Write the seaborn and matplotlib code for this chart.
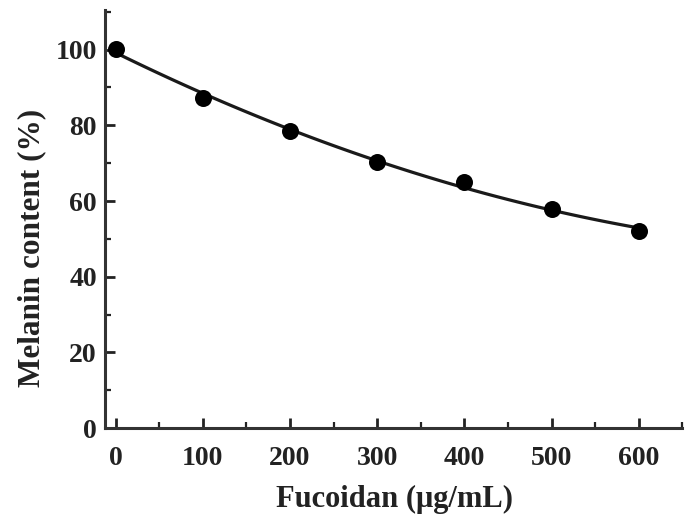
import matplotlib
matplotlib.use("Agg")
import numpy as np
import pandas as pd
import seaborn as sns
import matplotlib.pyplot as plt
from matplotlib.ticker import MultipleLocator

# Data
fucoidan = [0, 100, 200, 300, 400, 500, 600]          # µg/mL
melanin = [100.2, 87.2, 78.4, 70.3, 65.0, 57.9, 52.2]  # %

df = pd.DataFrame({"Fucoidan": fucoidan, "Melanin": melanin})

sns.set_style("ticks")
plt.rcParams["font.family"] = ["Liberation Serif", "DejaVu Serif"]
plt.rcParams["font.weight"] = "bold"

fig = plt.figure(figsize=(6.92, 5.19), dpi=100)
ax = fig.add_axes([0.152, 0.175, 0.834, 0.806])

# fitted trend line + measured points
sns.regplot(data=df, x="Fucoidan", y="Melanin", order=2, ci=None,
            truncate=True, ax=ax,
            scatter_kws={"s": 150, "color": "black", "alpha": 1,
                         "zorder": 3, "linewidths": 0},
            line_kws={"color": "#1a1a1a", "lw": 2.3})

ax.set_xlim(-12, 650)
ax.set_ylim(0, 110.5)
ax.xaxis.set_major_locator(MultipleLocator(100))
ax.xaxis.set_minor_locator(MultipleLocator(50))
ax.yaxis.set_major_locator(MultipleLocator(20))
ax.yaxis.set_minor_locator(MultipleLocator(10))

ax.tick_params(which="major", direction="in", length=7, width=2,
               labelsize=20, colors="#222222")
ax.tick_params(axis="x", which="major", pad=13)
ax.tick_params(axis="y", which="major", pad=6)
ax.tick_params(which="minor", direction="in", length=4, width=1.6,
               colors="#222222")
for lab in ax.get_xticklabels() + ax.get_yticklabels():
    lab.set_fontweight("bold")

for side in ["top", "right"]:
    ax.spines[side].set_visible(False)
for side in ["left", "bottom"]:
    ax.spines[side].set_linewidth(2.2)
    ax.spines[side].set_color("#333333")

ax.set_xlabel("Fucoidan (μg/mL)", fontsize=22, fontweight="bold",
              color="#222222")
ax.set_ylabel("Melanin content (%)", fontsize=22.5, fontweight="bold",
              color="#222222")
ax.xaxis.set_label_coords(0.502, -0.135)
ax.yaxis.set_label_coords(-0.102, 0.43)

fig.savefig("out.png", dpi=100)
